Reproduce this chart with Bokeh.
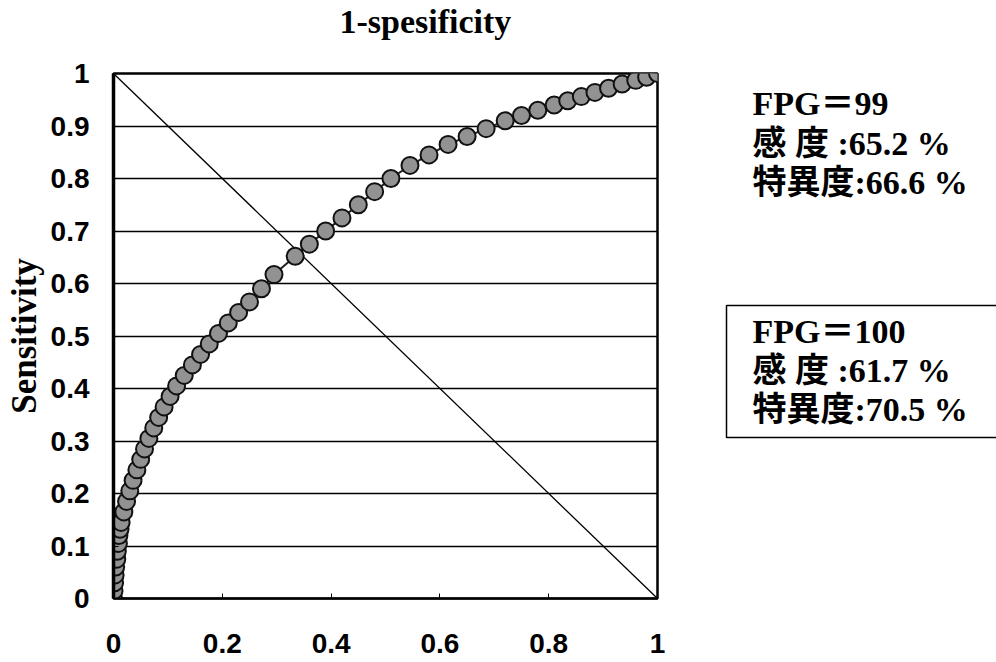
from bokeh.plotting import figure
from bokeh.models import Range1d, FixedTicker
from bokeh.layouts import row
from bokeh.core.properties import value
from bokeh.embed import file_html
from bokeh.resources import INLINE

# ROC curve points: 1-specificity (x) and sensitivity (y)
fpr = [0.0, 0.001, 0.002, 0.003, 0.004, 0.006, 0.007, 0.009, 0.010, 0.012,
       0.014, 0.019, 0.024, 0.030, 0.036,
       0.043, 0.050, 0.057, 0.065, 0.074, 0.083, 0.093, 0.104, 0.116, 0.130,
       0.145, 0.160, 0.176, 0.193, 0.211, 0.230, 0.250, 0.272, 0.295, 0.334,
       0.360, 0.390, 0.420, 0.450, 0.480, 0.510, 0.545, 0.580, 0.615, 0.650,
       0.685, 0.720, 0.750, 0.780, 0.810, 0.835, 0.860, 0.885, 0.910, 0.935,
       0.960, 0.980, 1.0]
tpr = [0.0, 0.015, 0.030, 0.045, 0.060, 0.075, 0.090, 0.105, 0.120, 0.132,
       0.145, 0.165, 0.185, 0.205, 0.225,
       0.245, 0.265, 0.285, 0.305, 0.325, 0.345, 0.365, 0.385, 0.405, 0.425,
       0.445, 0.465, 0.485, 0.505, 0.525, 0.545, 0.565, 0.590, 0.617, 0.652,
       0.675, 0.700, 0.725, 0.750, 0.775, 0.800, 0.825, 0.845, 0.865, 0.880,
       0.895, 0.910, 0.920, 0.930, 0.940, 0.948, 0.956, 0.964, 0.972, 0.980,
       0.987, 0.993, 1.0]

# reference diagonal (from (0,1) to (1,0))
diag_x = [0, 1]
diag_y = [1, 0]

y_ticks = [0, 0.1, 0.2, 0.3, 0.4, 0.5, 0.6, 0.7, 0.8, 0.9, 1]
y_tick_labels = ["0", "0.1", "0.2", "0.3", "0.4", "0.5", "0.6", "0.7", "0.8", "0.9", "1"]
x_ticks = [0, 0.2, 0.4, 0.6, 0.8, 1]
x_tick_labels = ["0", "0.2", "0.4", "0.6", "0.8", "1"]

title_text = "1-spesificity"
y_label = "Sensitivity"
note1_lines = ["FPG＝99", "感 度 :65.2 %", "特異度:66.6 %"]
note2_lines = ["FPG＝100", "感 度 :61.7 %", "特異度:70.5 %"]

SERIF = "Liberation Serif"
MIXED = "Liberation Serif, Noto Sans CJK JP"
SANS = "Liberation Sans"

p = figure(width=720, height=662, output_backend="svg", toolbar_location=None,
           x_range=Range1d(0, 1), y_range=Range1d(0, 1),
           min_border_left=113, min_border_right=63, min_border_top=73,
           min_border_bottom=64)
p.background_fill_color = "white"
p.border_fill_color = "white"
p.outline_line_color = "black"
p.outline_line_width = 2.5

# title (a blank second line keeps it higher above the frame)
p.title.text = title_text + "\n "
p.title.align = "left"
p.title.offset = 226
p.title.text_font = SERIF
p.title.text_font_size = "34px"
p.title.text_font_style = "bold"
p.title.text_color = "black"
p.title.text_line_height = 0.9
p.title.standoff = 1

p.xgrid.visible = False
p.ygrid.ticker = FixedTicker(ticks=y_ticks)
p.ygrid.grid_line_color = "black"
p.ygrid.grid_line_width = 1.4
p.ygrid.grid_line_alpha = 1.0

p.yaxis.ticker = FixedTicker(ticks=y_ticks)
p.yaxis.major_label_overrides = dict(zip(y_ticks, y_tick_labels))
p.xaxis.ticker = FixedTicker(ticks=x_ticks)
p.xaxis.major_label_overrides = dict(zip(x_ticks, x_tick_labels))
p.xaxis.minor_tick_line_color = None
p.yaxis.minor_tick_line_color = None
for ax in (p.xaxis, p.yaxis):
    ax.major_tick_in = 5
    ax.major_tick_out = 0
    ax.major_tick_line_color = "black"
    ax.major_label_text_font = SANS
    ax.major_label_text_font_style = "bold"
    ax.major_label_text_font_size = "28px"
    ax.major_label_text_color = "black"
p.yaxis.axis_line_width = 3.5
p.yaxis.axis_line_color = "black"
p.xaxis.axis_line_color = "black"
p.xaxis.axis_line_width = 2
p.yaxis.major_label_standoff = 24
p.xaxis.major_label_standoff = 35
p.yaxis.axis_label = y_label
p.yaxis.axis_label_text_font = SERIF
p.yaxis.axis_label_text_font_style = "bold"
p.yaxis.axis_label_text_font_size = "35px"
p.yaxis.axis_label_text_color = "black"
p.yaxis.axis_label_standoff = 4

p.line(diag_x, diag_y, line_color="black", line_width=1.3)
p.line(fpr, tpr, line_color="#222222", line_width=2)
p.scatter(fpr, tpr, size=17, marker="circle", fill_color="#929292",
          line_color="#111111", line_width=2)

# right-hand annotation panel (its frame is aligned with the main frame: 73..598 px)
q = figure(width=276, height=662, output_backend="svg", toolbar_location=None,
           x_range=Range1d(720, 996), y_range=Range1d(598, 73),
           min_border=0, min_border_left=0, min_border_right=0,
           min_border_top=73, min_border_bottom=64)
q.axis.visible = False
q.grid.visible = False
q.outline_line_color = None
q.background_fill_color = "white"
q.border_fill_color = "white"

q.quad(left=[726], right=[1010], top=[305], bottom=[437],
       fill_color=None, line_color="black", line_width=1.5)

q.text(x=[752, 752, 752], y=[103, 143, 182], text=note1_lines,
       text_font=value(MIXED), text_font_style="bold", text_font_size="34px",
       text_color="black", text_baseline="middle", text_align="left")
q.text(x=[752, 752, 752], y=[331, 370, 409], text=note2_lines,
       text_font=value(MIXED), text_font_style="bold", text_font_size="34px",
       text_color="black", text_baseline="middle", text_align="left")

layout = row(p, q, spacing=0)
open("out.html", "w").write(file_html(layout, INLINE))
